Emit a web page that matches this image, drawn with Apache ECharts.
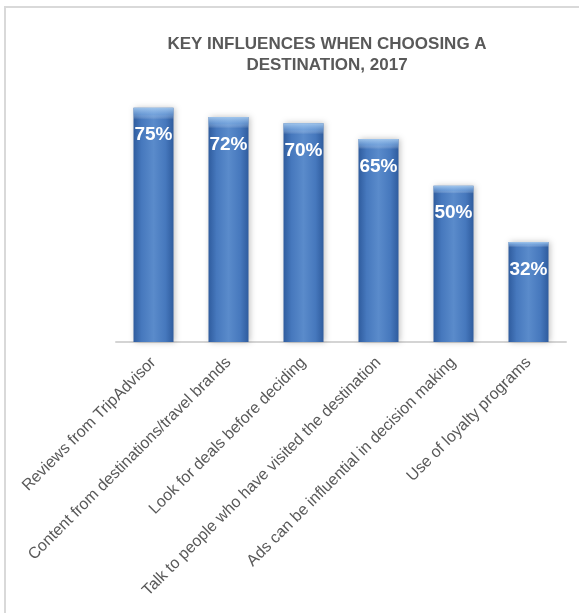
<!DOCTYPE html>
<html><head><meta charset="utf-8">
<script src="https://cdn.jsdelivr.net/npm/echarts@6/dist/echarts.min.js"></script>
<style>html,body{margin:0;padding:0;background:#fff}#c{width:579px;height:613px}</style>
</head><body><div id="c"></div>
<script>
const titleText = "KEY INFLUENCES WHEN CHOOSING A\nDESTINATION, 2017";
const categories = [
  "Reviews from TripAdvisor",
  "Content from destinations/travel brands",
  "Look for deals before deciding",
  "Talk to people who have visited the destination",
  "Ads can be influential in decision making",
  "Use of loyalty programs"
];
const values = [75, 72, 70, 65, 50, 32];

const chart = echarts.init(document.getElementById('c'), null, {renderer: 'canvas'});
const barGrad = new echarts.graphic.LinearGradient(0, 0, 1, 0, [
  {offset: 0, color: '#2f5c9e'},
  {offset: 0.2, color: '#4678bd'},
  {offset: 0.5, color: '#5a8bcb'},
  {offset: 0.8, color: '#4678bd'},
  {offset: 1, color: '#2f5c9e'}
]);
chart.setOption({
  animation: false,
  graphic: [{
    type: 'rect', shape: {x: 5, y: 7, width: 590, height: 620},
    style: {fill: 'none', stroke: '#d9d9d9', lineWidth: 2}, silent: true
  }],
  title: {
    text: titleText, left: 322, top: 29, textAlign: 'center',
    textStyle: {fontFamily: 'Liberation Sans, Arial', fontWeight: 'bold', fontSize: 17, color: '#595959', lineHeight: 21}
  },
  grid: {left: 116, right: 13, top: 92, bottom: 271, containLabel: false},
  xAxis: {
    type: 'category', data: categories,
    axisLine: {lineStyle: {color: '#d4d4d4', width: 2}},
    axisTick: {show: false},
    axisLabel: {interval: 0, rotate: 45, color: '#595959', fontSize: 16, margin: 18,
      fontFamily: 'Liberation Sans, Arial'}
  },
  yAxis: {type: 'value', min: 0, max: 80, show: false, splitLine: {show: false}},
  series: [{
    type: 'bar', data: values, barWidth: 40,
    itemStyle: {color: barGrad, shadowColor: 'rgba(0,0,0,0.25)', shadowBlur: 6, shadowOffsetX: 1, shadowOffsetY: 0},
    label: {show: true, position: 'insideTop', distance: 18, formatter: '{c}%',
      color: '#fff', fontWeight: 'bold', fontSize: 19,
      fontFamily: 'Liberation Sans, Arial'}
  }, {
    type: 'bar', data: values, barWidth: 40, barGap: '-100%', silent: true, z: 3,
    itemStyle: {color: new echarts.graphic.LinearGradient(0, 0, 0, 1, [
      {offset: 0, color: 'rgba(170,205,240,0.9)'},
      {offset: 0.03, color: 'rgba(140,185,235,0.5)'},
      {offset: 0.05, color: 'rgba(255,255,255,0)'},
      {offset: 1, color: 'rgba(255,255,255,0)'}
    ])}
  }]
});
</script></body></html>
